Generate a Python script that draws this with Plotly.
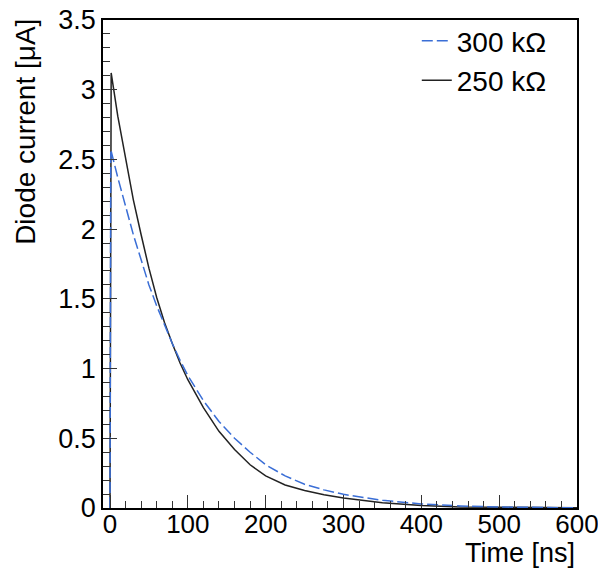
import plotly.graph_objects as go

# values
t_250 = [0, 1.5, 10, 20, 30, 40, 50, 60, 70, 80, 90, 100, 120, 140, 160, 180, 200,
         225, 250, 275, 300, 350, 400, 450, 500, 550, 600]
i_250 = [0, 3.12, 2.81, 2.50, 2.21, 1.96, 1.72, 1.51, 1.33, 1.18, 1.04, 0.92, 0.72,
         0.55, 0.42, 0.31, 0.23, 0.165, 0.125, 0.095, 0.072, 0.038, 0.018, 0.008,
         0.004, 0.002, 0.001]

t_300 = [0, 1.0, 10, 20, 30, 40, 50, 60, 70, 80, 90, 100, 120, 140, 160, 180, 200,
         225, 250, 275, 300, 350, 400, 450, 500, 550, 600]
i_300 = [0, 2.57, 2.37, 2.16, 1.96, 1.78, 1.60, 1.45, 1.31, 1.18, 1.06, 0.95, 0.77,
         0.62, 0.50, 0.40, 0.31, 0.23, 0.17, 0.13, 0.098, 0.055, 0.029, 0.015,
         0.007, 0.003, 0.001]

FONT = "Liberation Sans, Arial, Helvetica, sans-serif"

fig = go.Figure()
fig.add_trace(go.Scatter(x=t_250, y=i_250, mode="lines", name="250 k\u03a9",
                         line=dict(color="#222222", width=1.5), legendrank=2))
fig.add_trace(go.Scatter(x=t_300, y=i_300, mode="lines", name="300 k\u03a9",
                         line=dict(color="#3a6ed6", width=1.5, dash="11px,4px"),
                         legendrank=1))

fig.update_xaxes(range=[-9, 600], dtick=100, tick0=0, showline=True, linecolor="black",
                 linewidth=1.5, mirror=True, ticks="inside", ticklen=13, tickwidth=1.2,
                 tickcolor="#333", showgrid=False, zeroline=False, automargin=False,
                 ticklabeloverflow="allow", ticklabelstandoff=-8,
                 minor=dict(ticks="inside", dtick=20, ticklen=7, tickcolor="#333",
                            showgrid=False),
                 tickfont=dict(family=FONT, size=26, color="black"))
fig.update_yaxes(range=[0, 3.5], dtick=0.5, tick0=0, showline=True, linecolor="black",
                 linewidth=1.5, mirror=True, ticks="inside", ticklen=14, tickwidth=1.2,
                 tickcolor="#333", showgrid=False, zeroline=False, automargin=False,
                 ticklabeloverflow="allow",
                 minor=dict(ticks="inside", dtick=0.1, ticklen=7, tickcolor="#333",
                            showgrid=False),
                 tickfont=dict(family=FONT, size=27, color="black"))

fig.add_annotation(text="Time [ns]", xref="paper", yref="paper", x=1.0, y=-0.092,
                   xanchor="right", yanchor="middle", showarrow=False,
                   font=dict(family=FONT, size=27, color="black"))
fig.add_annotation(text="Diode current [\u03bcA]", xref="paper", yref="paper",
                   x=-0.165, y=1.006, xanchor="center", yanchor="top", textangle=-90,
                   showarrow=False, font=dict(family=FONT, size=28, color="black"))

fig.update_layout(
    width=598, height=572,
    margin=dict(l=103, r=21, t=20, b=64),
    plot_bgcolor="white", paper_bgcolor="white",
    legend=dict(x=0.662, y=1.008, xanchor="left", yanchor="top",
                bgcolor="rgba(0,0,0,0)", font=dict(family=FONT, size=28, color="black")),
)

# drop the browser's default page margin so the figure sits at the top-left corner
fig.write_html("out.html", config={"displayModeBar": False},
               post_script="document.body.style.margin='0';")
